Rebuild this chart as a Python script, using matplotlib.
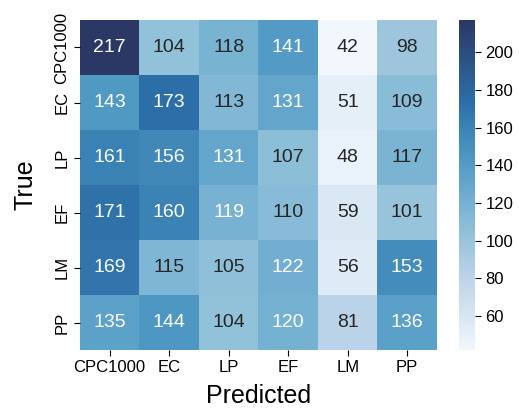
import numpy as np
import matplotlib
matplotlib.use("Agg")
import matplotlib.pyplot as plt
from matplotlib.colors import LinearSegmentedColormap
import seaborn as sns

# Confusion matrix values (rows = true, cols = predicted)
labels = ["CPC1000", "EC", "LP", "EF", "LM", "PP"]
row_cpc = [217, 104, 118, 141, 42, 98]
row_ec = [143, 173, 113, 131, 51, 109]
row_lp = [161, 156, 131, 107, 48, 117]
row_ef = [171, 160, 119, 110, 59, 101]
row_lm = [169, 115, 105, 122, 56, 153]
row_pp = [135, 144, 104, 120, 81, 136]
cm = np.array([row_cpc, row_ec, row_lp, row_ef, row_lm, row_pp])

plt.rcParams['font.family'] = ['Liberation Sans', 'DejaVu Sans']

# slightly muted blues, to look like the original
cmap = LinearSegmentedColormap.from_list("muted_blues", [
    (0.0, "#f1f7fd"),
    (0.22, "#bcd3e8"),
    (0.35, "#93c2da"),
    (0.45, "#74b0d1"),
    (0.58, "#4f98c3"),
    (0.67, "#3d84b6"),
    (0.75, "#2c6fa8"),
    (1.0, "#2b3866"),
])

fig = plt.figure(figsize=(5.19, 4.08), dpi=100)
ax = fig.add_axes([0.154, 0.142, 0.688, 0.809])
cax = fig.add_axes([0.884, 0.142, 0.031, 0.809])

sns.heatmap(cm, annot=True, fmt="d", cmap=cmap, ax=ax, cbar_ax=cax,
            annot_kws={"size": 14}, xticklabels=labels, yticklabels=labels)

ax.set_xlabel("Predicted", fontsize=18, labelpad=6)
ax.set_ylabel("True", fontsize=18, labelpad=12)
ax.tick_params(axis='both', labelsize=12, length=4)
plt.setp(ax.get_xticklabels(), rotation=0)
plt.setp(ax.get_yticklabels(), rotation=90, va='center')
cax.tick_params(labelsize=12, length=4)
cax.set_yticks([60, 80, 100, 120, 140, 160, 180, 200])

fig.savefig("out.png", dpi=100)
